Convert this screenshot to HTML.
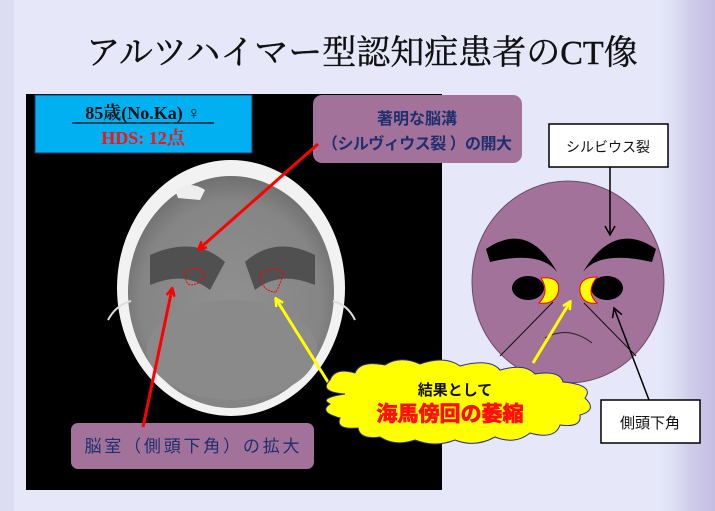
<!DOCTYPE html>
<html><head><meta charset="utf-8"><style>
html,body{margin:0;padding:0}
body{width:715px;height:511px;overflow:hidden;background:#e6e8fa;position:relative;font-family:"Liberation Sans","Noto Sans CJK JP",sans-serif}
svg{position:absolute;left:0;top:0}
</style></head><body>
<svg width="715" height="511" viewBox="0 0 715 511" xmlns="http://www.w3.org/2000/svg">
<defs>
<linearGradient id="rs" x1="0" x2="1" y1="0" y2="0">
<stop offset="0" stop-color="#e6e8fa" stop-opacity="0"/>
<stop offset="0.6" stop-color="#d0cdea"/>
<stop offset="1" stop-color="#c4bee2"/>
</linearGradient>
<radialGradient id="brain" cx="0.5" cy="0.55" r="0.55">
<stop offset="0" stop-color="#909090"/>
<stop offset="0.8" stop-color="#858585"/>
<stop offset="1" stop-color="#707070"/>
</radialGradient>
<marker id="ar" markerWidth="10" markerHeight="10" refX="8" refY="5" orient="auto" markerUnits="userSpaceOnUse"><path d="M1,1 L9,5 L1,9" fill="none" stroke="red" stroke-width="2.5"/></marker>
<marker id="ay" markerWidth="10" markerHeight="10" refX="8" refY="5" orient="auto" markerUnits="userSpaceOnUse"><path d="M1,1 L9,5 L1,9" fill="none" stroke="#ffff00" stroke-width="2.5"/></marker>
<marker id="ab" markerWidth="12" markerHeight="12" refX="10" refY="6" orient="auto" markerUnits="userSpaceOnUse"><path d="M1,1 L10,6 L1,11" fill="none" stroke="#000" stroke-width="1.5"/></marker>
</defs>
<rect x="0" y="0" width="715" height="511" fill="#e6e8fa"/>
<rect x="650" y="0" width="65" height="511" fill="url(#rs)"/>
<rect x="0" y="0" width="14" height="511" fill="#dcdcf2"/>
<text x="362" y="64" text-anchor="middle" font-family="'Liberation Serif','Noto Serif CJK SC',serif" font-size="34" fill="#111" stroke="#111" stroke-width="0.4">アルツハイマー型認知症患者のCT像</text>

<rect x="26" y="94" width="416" height="396" fill="#000"/>
<ellipse cx="231" cy="288" rx="114" ry="128" fill="#f2f2f2"/>
<ellipse cx="231" cy="292" rx="103" ry="116" fill="url(#brain)"/>
<ellipse cx="232" cy="350" rx="85" ry="50" fill="#8a8a8a"/>
<path d="M150,255 Q195,235 225,262 L210,290 Q185,270 150,285Z" fill="#505050"/>
<path d="M245,262 Q275,235 315,255 L315,285 Q280,270 255,290Z" fill="#505050"/>
<path d="M175,190 Q190,180 205,190 L200,200 L178,198Z" fill="#eee"/>
<path d="M131,301 Q116,305 108,320" fill="none" stroke="#ddd" stroke-width="2"/>
<path d="M333,301 Q348,305 355,320" fill="none" stroke="#ddd" stroke-width="2"/>
<path d="M186,272 Q196,264 205,274 Q204,284 190,285 Q184,282 186,272Z" fill="none" stroke="red" stroke-width="1" stroke-dasharray="2,1"/>
<path d="M260,275 Q270,265 284,272 Q280,285 276,292 Q262,292 260,275Z" fill="none" stroke="red" stroke-width="1" stroke-dasharray="2,1"/>

<rect x="35" y="95" width="217" height="58" fill="#00b0f0" stroke="#1f3864" stroke-width="1"/>
<text x="143" y="119" text-anchor="middle" font-family="'Liberation Serif','Noto Serif CJK JP',serif" font-size="18" font-weight="bold" fill="#111">85歳(No.Ka) ♀</text>
<line x1="72" y1="123" x2="214" y2="123" stroke="#111" stroke-width="1.2"/>
<text x="143" y="144" text-anchor="middle" font-family="'Liberation Serif','Noto Serif CJK JP',serif" font-size="18" font-weight="bold" fill="#ff1010">HDS: 12点</text>

<rect x="313" y="95" width="209" height="68" rx="9" fill="#a2729a"/>
<text x="417" y="124" text-anchor="middle" font-size="16" font-weight="bold" fill="#1f2f6e">著明な脳溝</text>
<text x="417" y="149" text-anchor="middle" font-size="16" font-weight="bold" fill="#1f2f6e" textLength="190">（シルヴィウス裂 ）の開大</text>

<rect x="71" y="423" width="243" height="46" rx="7" fill="#a2729a"/>
<text x="192" y="452" text-anchor="middle" font-size="17" fill="#1f2f6e" textLength="215">脳室（側頭下角）の拡大</text>

<line x1="318" y1="144" x2="199" y2="249" stroke="red" stroke-width="3" marker-end="url(#ar)"/>
<line x1="143" y1="427" x2="172" y2="289" stroke="red" stroke-width="3" marker-end="url(#ar)"/>
<line x1="333" y1="390" x2="276" y2="299" stroke="#ffff00" stroke-width="3" marker-end="url(#ay)"/>

<!-- face -->
<ellipse cx="568" cy="282" rx="96" ry="101" fill="#a2729a" stroke="#6a4a6a" stroke-width="1"/>
<path d="M486,249 Q528,220 557,272 Q540,250 490,262Z" fill="#000"/>
<path d="M656,249 Q614,220 583,272 Q600,250 652,262Z" fill="#000"/>
<ellipse cx="528" cy="288" rx="16" ry="12" fill="#000"/>
<ellipse cx="607" cy="288" rx="16" ry="12" fill="#000"/>
<path d="M541,278 Q562,276 558,293 Q554,305 539,303 Q550,292 541,278Z" fill="#ffff00" stroke="red" stroke-width="1"/>
<path d="M597,277 Q578,277 580,292 Q583,305 597,303 Q585,292 597,277Z" fill="#ffff00" stroke="red" stroke-width="1"/>
<path d="M545,338 Q568,325 592,343" fill="none" stroke="#222" stroke-width="1"/>
<line x1="553" y1="302" x2="500" y2="356" stroke="#111" stroke-width="1"/>
<line x1="584" y1="303" x2="636" y2="356" stroke="#111" stroke-width="1"/>

<rect x="549" y="124" width="119" height="43" fill="#fff" stroke="#000" stroke-width="1.5"/>
<text x="608" y="152" text-anchor="middle" font-size="14" fill="#111">シルビウス裂</text>
<line x1="610" y1="167" x2="610" y2="235" stroke="#000" stroke-width="1.5" marker-end="url(#ab)"/>

<rect x="601" y="400" width="99" height="43" fill="#fff" stroke="#000" stroke-width="1.5"/>
<text x="650" y="428" text-anchor="middle" font-size="15" fill="#111">側頭下角</text>
<line x1="649" y1="400" x2="614" y2="308" stroke="#000" stroke-width="1.5" marker-end="url(#ab)"/>

<line x1="533" y1="363" x2="570" y2="302" stroke="#ffff00" stroke-width="3" marker-end="url(#ay)"/>

<!-- cloud -->
<path d="M345,394 Q318,392 330,380 Q335,367 355,373 Q360,360 385,365 Q400,355 420,364 Q445,355 460,366 Q490,358 500,370 Q525,363 535,374 Q560,370 563,382 Q595,385 585,398 Q598,410 580,415 Q582,428 560,425 Q555,440 530,433 Q515,445 495,437 Q475,448 455,440 Q435,448 415,440 Q395,447 380,437 Q360,440 358,428 Q335,430 340,418 Q318,412 330,404 Q318,398 345,394Z" fill="#ffff00" stroke="#2a2a9a" stroke-width="1"/>
<text x="455" y="395" text-anchor="middle" font-size="15" font-weight="bold" fill="#111">結果として</text>
<text x="450" y="421" text-anchor="middle" font-size="21" font-weight="bold" fill="#ff1010" stroke="#ff1010" stroke-width="0.8">海馬傍回の萎縮</text>
</svg>
</body></html>
